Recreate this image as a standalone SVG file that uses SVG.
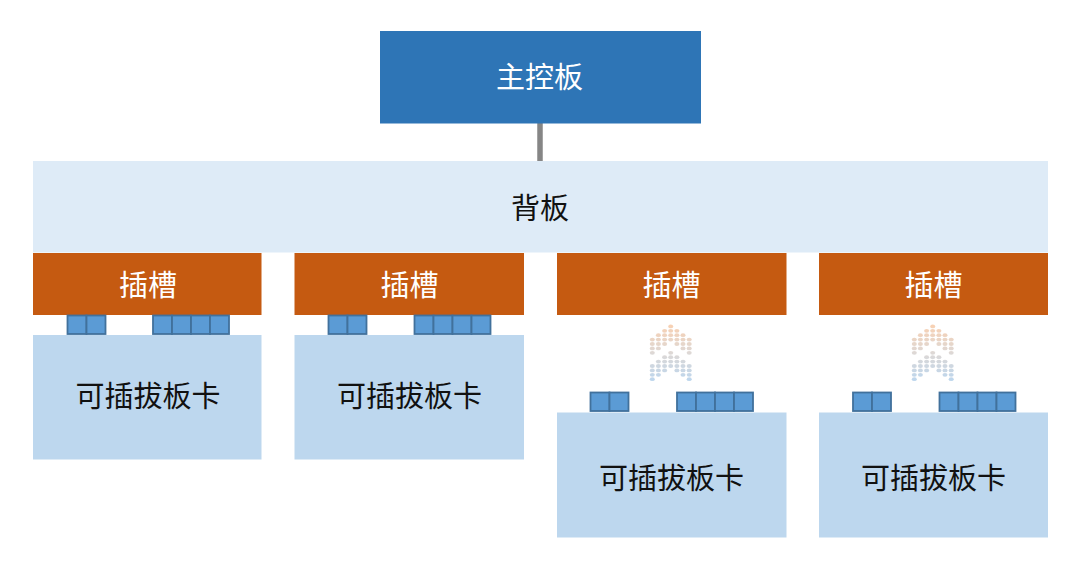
<svg xmlns="http://www.w3.org/2000/svg" width="1080" height="566" viewBox="0 0 1080 566">
<style>
text{font-family:"Noto Sans CJK SC","Liberation Sans",sans-serif;font-size:29px;text-anchor:middle}
.w{fill:#fff}.k{fill:#111}
.main{fill:#2e75b6}.back{fill:#deebf7}.slot{fill:#c55a11}.card{fill:#bdd7ee}
.port{fill:#5b9bd5;stroke:#41719c;stroke-width:1.8}
.link{stroke:#868686;stroke-width:5.5;fill:none}
.dot{fill:url(#fade);opacity:.8}
.dot ellipse{rx:2.5px;ry:1.9px}
</style>
<defs>
<linearGradient id="fade" gradientUnits="userSpaceOnUse" x1="0" y1="326" x2="0" y2="380">
<stop offset="0" stop-color="#f6c6a2"/><stop offset=".5" stop-color="#d6cfcb"/><stop offset="1" stop-color="#aecde9"/>
</linearGradient>
<g id="p2"><rect class="port" width="19" height="18.5"/><rect class="port" x="19" width="19" height="18.5"/></g>
<g id="p4"><rect class="port" width="19" height="18.5"/><rect class="port" x="19" width="19" height="18.5"/><rect class="port" x="38" width="19" height="18.5"/><rect class="port" x="57" width="19" height="18.5"/></g>
<g id="chev" class="dot">
<ellipse cx="670.7" cy="326.4"/>
<ellipse cx="664.6" cy="330.8"/><ellipse cx="670.7" cy="330.8"/><ellipse cx="676.9" cy="330.8"/>
<ellipse cx="658.4" cy="335.2"/><ellipse cx="664.6" cy="335.2"/><ellipse cx="670.7" cy="335.2"/><ellipse cx="676.9" cy="335.2"/><ellipse cx="683" cy="335.2"/>
<ellipse cx="652.3" cy="339.6"/><ellipse cx="658.4" cy="339.6"/><ellipse cx="664.6" cy="339.6"/><ellipse cx="670.7" cy="339.6"/><ellipse cx="676.9" cy="339.6"/><ellipse cx="683" cy="339.6"/><ellipse cx="689.2" cy="339.6"/>
<ellipse cx="652.3" cy="344"/><ellipse cx="658.4" cy="344"/><ellipse cx="664.6" cy="344"/><ellipse cx="676.9" cy="344"/><ellipse cx="683" cy="344"/><ellipse cx="689.2" cy="344"/>
<ellipse cx="652.3" cy="348.4"/><ellipse cx="658.4" cy="348.4"/><ellipse cx="683" cy="348.4"/><ellipse cx="689.2" cy="348.4"/>
<ellipse cx="652.3" cy="352.8"/><ellipse cx="689.2" cy="352.8"/>
<ellipse cx="670.7" cy="352.8"/>
<ellipse cx="664.6" cy="357.2"/><ellipse cx="670.7" cy="357.2"/><ellipse cx="676.9" cy="357.2"/>
<ellipse cx="658.4" cy="361.6"/><ellipse cx="664.6" cy="361.6"/><ellipse cx="670.7" cy="361.6"/><ellipse cx="676.9" cy="361.6"/><ellipse cx="683" cy="361.6"/>
<ellipse cx="652.3" cy="366"/><ellipse cx="658.4" cy="366"/><ellipse cx="664.6" cy="366"/><ellipse cx="670.7" cy="366"/><ellipse cx="676.9" cy="366"/><ellipse cx="683" cy="366"/><ellipse cx="689.2" cy="366"/>
<ellipse cx="652.3" cy="370.4"/><ellipse cx="658.4" cy="370.4"/><ellipse cx="664.6" cy="370.4"/><ellipse cx="676.9" cy="370.4"/><ellipse cx="683" cy="370.4"/><ellipse cx="689.2" cy="370.4"/>
<ellipse cx="652.3" cy="374.8"/><ellipse cx="658.4" cy="374.8"/><ellipse cx="683" cy="374.8"/><ellipse cx="689.2" cy="374.8"/>
<ellipse cx="652.3" cy="379.2"/><ellipse cx="689.2" cy="379.2"/>
</g>
</defs>
<rect width="1080" height="566" fill="#fff"/>
<g id="connectors"><line class="link" x1="540" y1="123" x2="540" y2="161"/></g>
<g id="main-board"><rect class="main" x="380" y="31" width="321" height="92.5"/><text class="w" x="539.500" y="88">主控板</text></g>
<g id="backplane"><rect class="back" x="33" y="161" width="1015" height="91.5"/><text class="k" x="540" y="219">背板</text></g>
<g id="slot-1"><rect class="slot" x="33" y="253" width="228.500" height="62"/><text class="w" x="148" y="295.500">插槽</text></g>
<g id="slot-2"><rect class="slot" x="294.500" y="253" width="229.500" height="62"/><text class="w" x="409.500" y="295.500">插槽</text></g>
<g id="slot-3"><rect class="slot" x="557" y="253" width="229.500" height="62"/><text class="w" x="671.500" y="295.500">插槽</text></g>
<g id="slot-4"><rect class="slot" x="819" y="253" width="229" height="62"/><text class="w" x="933.500" y="295.500">插槽</text></g>
<g id="card-1"><use href="#p2" x="67.500" y="315.500"/><use href="#p4" x="153" y="315.500"/><rect class="card" x="33" y="335" width="228.500" height="124.500"/><text class="k" x="148" y="407">可插拔板卡</text></g>
<g id="card-2"><use href="#p2" x="328.500" y="315.500"/><use href="#p4" x="414.500" y="315.500"/><rect class="card" x="294.500" y="335" width="229.500" height="124.500"/><text class="k" x="409.500" y="407">可插拔板卡</text></g>
<g id="card-3"><use href="#p2" x="590.500" y="392.500"/><use href="#p4" x="677" y="392.500"/><rect class="card" x="557" y="412.500" width="229.500" height="125"/><text class="k" x="671.500" y="488.500">可插拔板卡</text></g>
<g id="card-4"><use href="#p2" x="853" y="392.500"/><use href="#p4" x="939.500" y="392.500"/><rect class="card" x="819" y="412.500" width="229" height="125"/><text class="k" x="933.500" y="488.500">可插拔板卡</text></g>
<g id="insert-arrow-3"><use href="#chev"/></g>
<g id="insert-arrow-4"><use href="#chev" x="262"/></g>
</svg>
